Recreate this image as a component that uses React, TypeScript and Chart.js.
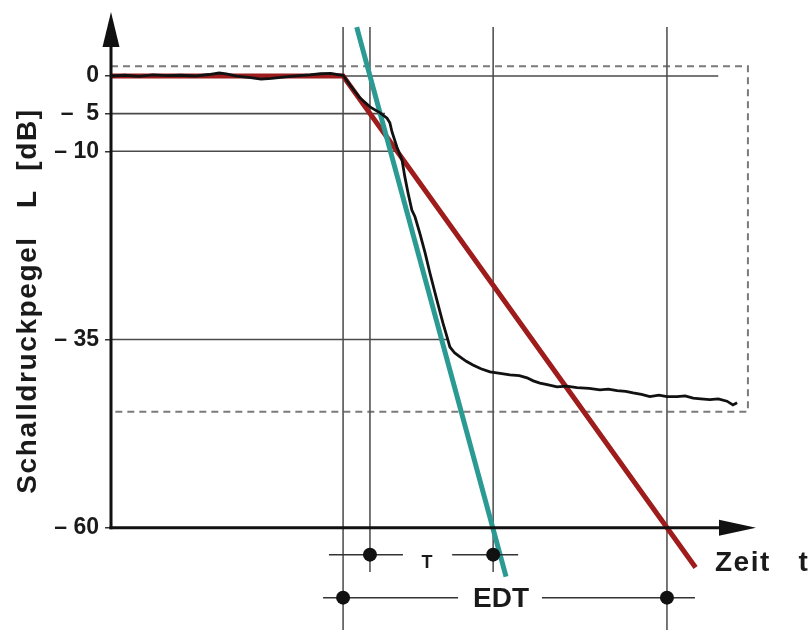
import React, { useEffect, useRef } from "react";
import { Chart, registerables } from "chart.js";

Chart.register(...registerables);

// ---- data (time in arbitrary units, level in dB) ----
const tickValues = [0, -5, -10, -35, -60];
const tickLabels = ["0", "–  5", "– 10", "– 35", "– 60"];

const curveTime = [
  0, 4, 8, 12, 16, 20, 24, 28, 31, 33,
  36, 40, 43, 46, 50, 54, 57, 60, 63, 65,
  66.5, 68.5, 71.3, 74.2, 77.1, 79.1, 79.9, 80.5, 81.9, 83.4,
  84.2, 85.1, 86.2, 87.1, 88.5, 90.0, 91.4, 93.4, 95.1, 96.3,
  97.1, 98.5, 100, 101.8, 103.7, 106, 108.6, 111.5, 114.3, 117,
  119.2, 121, 122.9, 125, 127.8, 130.5, 133.5, 137, 140.1, 142.5,
  145, 147.5, 149.6, 152, 154.4, 157, 159.3, 162.2, 164.5, 166.8,
  169, 171.6, 174, 176.5, 178.2, 179.4,
];
const curveLevel = [
  0.0, 0.1, -0.05, 0.15, 0.05, 0.1, 0.0, 0.2, 0.4, 0.3,
  0.0, -0.2, -0.4, -0.3, -0.1, 0.05, 0.15, 0.3, 0.35, 0.2,
  0.1, -1.2, -2.9, -4.1, -4.9, -5.6, -6.2, -7.4, -9.4, -11.2,
  -13.4, -15.5, -17.8, -18.7, -20.9, -23.5, -26.2, -29.8, -32.8, -34.7,
  -36.0, -36.8, -37.3, -37.9, -38.4, -38.9, -39.3, -39.5, -39.7, -39.8,
  -40.1, -40.5, -40.8, -41.0, -41.3, -41.2, -41.4, -41.5, -41.7, -41.6,
  -41.8, -41.9, -42.1, -42.3, -42.6, -42.4, -42.6, -42.6, -42.5, -42.8,
  -42.9, -43.0, -42.9, -43.2, -43.7, -43.4,
];

// EDT regression line (red): flat, then through 0 dB .. -60 dB
const edtTime = [0, 66.5, 167.5];
const edtLevel = [0, 0, -65.3];

// T regression line (teal)
const tTime = [70.4, 113.2];
const tLevel = [6.5, -66.5];

// marker times: EDT start, T start, T end, EDT end
const edtStart = 66.5;
const tStart = 74.2;
const tEnd = 109.5;
const edtEnd = 159.3;

// horizontal reference levels and where they end
const refLevels = [0, -5, -10, -35];
const refEnds = [174, 78.5, 82.5, 96.8];

// dashed evaluation box
const boxTop = 1.3;
const boxBottom = -44.6;
const boxRight = 182.5;

const markerTop = 6.5;
const tMarkerBottom = -65.9;
const yMin = -73.6;
const yMax = 10.1;

const FONT = "'Liberation Sans', Arial, Helvetica, sans-serif";

const pts = (xs: number[], ys: number[]) => xs.map((x, i) => ({ x, y: ys[i] }));

const lineDs = (data: any[], color: string, width: number, extra: any = {}) => ({
  data,
  showLine: true,
  borderColor: color,
  borderWidth: width,
  pointRadius: 0,
  fill: false,
  tension: 0,
  ...extra,
});

const overlay = {
  id: "overlay",
  afterDatasetsDraw(chart: any) {
    const { ctx, scales } = chart;
    const xs = scales.x;
    const ys = scales.y;
    const x0 = xs.getPixelForValue(0);
    const yAx = ys.getPixelForValue(-60);
    ctx.save();
    ctx.strokeStyle = "#111";
    ctx.fillStyle = "#111";
    ctx.lineWidth = 3;
    // y axis
    ctx.beginPath();
    ctx.moveTo(x0, yAx + 1.5);
    ctx.lineTo(x0, 40);
    ctx.stroke();
    ctx.beginPath();
    ctx.moveTo(x0, 12);
    ctx.lineTo(x0 - 8.5, 47);
    ctx.lineTo(x0 + 8.5, 47);
    ctx.closePath();
    ctx.fill();
    // x axis
    ctx.beginPath();
    ctx.moveTo(x0 - 1.5, yAx);
    ctx.lineTo(725, yAx);
    ctx.stroke();
    ctx.beginPath();
    ctx.moveTo(756, yAx);
    ctx.lineTo(719, yAx - 8);
    ctx.lineTo(719, yAx + 8);
    ctx.closePath();
    ctx.fill();

    // annotation rows
    const rowT = yAx + 27;
    const rowE = yAx + 70;
    const pT0 = xs.getPixelForValue(tStart);
    const pT1 = xs.getPixelForValue(tEnd);
    const pE0 = xs.getPixelForValue(edtStart);
    const pE1 = xs.getPixelForValue(edtEnd);
    ctx.strokeStyle = "#333";
    ctx.lineWidth = 1.5;
    const seg = (a: number, b: number, y: number) => {
      ctx.beginPath();
      ctx.moveTo(a, y);
      ctx.lineTo(b, y);
      ctx.stroke();
    };
    seg(pT0 - 41, pT0 + 33, rowT);
    seg(pT1 - 41, pT1 + 25, rowT);
    seg(pE0 - 20, pE0 + 115, rowE);
    seg(pE1 - 125, pE1 + 28, rowE);
    ctx.fillStyle = "#111";
    [
      [pT0, rowT],
      [pT1, rowT],
      [pE0, rowE],
      [pE1, rowE],
    ].forEach(([px, py]) => {
      ctx.beginPath();
      ctx.arc(px, py, 7, 0, Math.PI * 2);
      ctx.fill();
    });

    ctx.fillStyle = "#1a1a1a";
    ctx.textAlign = "center";
    ctx.textBaseline = "middle";
    ctx.font = `bold 18px ${FONT}`;
    ctx.fillText("T", 427, rowT + 8);
    ctx.font = `bold 28px ${FONT}`;
    ctx.fillText("EDT", 501, rowE + 2);

    ctx.textAlign = "left";
    ctx.textBaseline = "alphabetic";
    ctx.font = `bold 28px ${FONT}`;
    (ctx as any).letterSpacing = "1.5px";
    ctx.fillText("Zeit   t", 715, 571);

    // y title
    ctx.save();
    ctx.translate(28, 301);
    ctx.rotate(-Math.PI / 2);
    ctx.textAlign = "center";
    ctx.textBaseline = "middle";
    ctx.font = `bold 28px ${FONT}`;
    (ctx as any).letterSpacing = "1.6px";
    ctx.fillText("Schalldruckpegel   L  [dB]", 0, 0);
    ctx.restore();

    ctx.restore();
  },
};

export default function App() {
  const ref = useRef<HTMLCanvasElement>(null);
  useEffect(() => {
    const gray = "#4a4a4a";
    const refSets = refLevels.map((lv, i) =>
      lineDs(pts([0, refEnds[i]], [lv, lv]), gray, 1.6)
    );
    const vSets = [
      lineDs(pts([edtStart, edtStart], [markerTop, yMin]), "#555", 1.6),
      lineDs(pts([tStart, tStart], [markerTop, tMarkerBottom]), "#555", 1.6),
      lineDs(pts([tEnd, tEnd], [markerTop, tMarkerBottom]), "#555", 1.6),
      lineDs(pts([edtEnd, edtEnd], [markerTop, yMin]), "#555", 1.6),
    ];
    const box = lineDs(
      pts([0, boxRight, boxRight, 0], [boxTop, boxTop, boxBottom, boxBottom]),
      "#7a7a7a",
      2,
      { borderDash: [7, 5] }
    );
    const chart = new Chart(ref.current as HTMLCanvasElement, {
      type: "scatter",
      data: {
        datasets: [
          lineDs(pts(curveTime, curveLevel), "#111", 2.8),
          lineDs(pts(tTime, tLevel), "#2a9a92", 5),
          lineDs(pts(edtTime, edtLevel), "#9e1c1c", 5),
          ...refSets,
          ...vSets,
          box,
        ] as any,
      },
      options: {
        responsive: false,
        animation: false,
        devicePixelRatio: 1,
        layout: { padding: 0 },
        plugins: {
          legend: { display: false },
          tooltip: { enabled: false },
        },
        scales: {
          x: { type: "linear", min: 0, max: 200, display: false },
          y: {
            type: "linear",
            min: yMin,
            max: yMax,
            position: "left",
            afterFit: (s: any) => {
              s.width = 111;
              s.paddingTop = 0;
              s.paddingBottom = 0;
            },
            afterBuildTicks: (s: any) => {
              s.ticks = tickValues.map((v) => ({ value: v }));
            },
            ticks: {
              autoSkip: false,
              padding: 6,
              color: "#1a1a1a",
              font: { family: FONT, size: 23, weight: "bold" },
              callback: (v: any) => {
                const i = tickValues.indexOf(Number(v));
                return i >= 0 ? tickLabels[i] : "";
              },
            },
            grid: {
              drawOnChartArea: false,
              drawTicks: true,
              tickLength: 6,
              color: "#333",
              lineWidth: 1.5,
            },
            border: { display: false },
          },
        },
      } as any,
      plugins: [overlay],
    });
    return () => chart.destroy();
  }, []);
  return (
    <div
      style={{
        position: "fixed",
        left: 0,
        top: 0,
        width: 809,
        height: 630,
        background: "#fff",
      }}
    >
      <canvas ref={ref} width={809} height={630} style={{ display: "block" }} />
    </div>
  );
}
